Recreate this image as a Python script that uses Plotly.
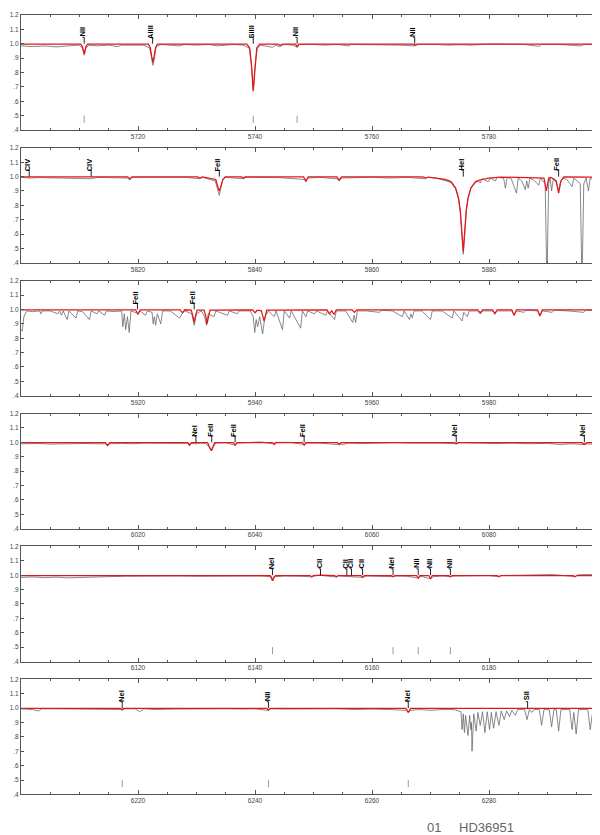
import plotly.graph_objects as go

# ---------------- data ----------------
X_RANGES = [(5700, 5800), (5800, 5900), (5900, 6000), (6000, 6100), (6100, 6200), (6200, 6300)]
X_TICKS = [
    [5720, 5740, 5760, 5780],
    [5820, 5840, 5860, 5880],
    [5920, 5940, 5960, 5980],
    [6020, 6040, 6060, 6080],
    [6120, 6140, 6160, 6180],
    [6220, 6240, 6260, 6280],
]
Y_TICKVALS = [0.4, 0.5, 0.6, 0.7, 0.8, 0.9, 1.0, 1.1, 1.2]
Y_TICKTEXT = [".4", ".5", ".6", ".7", ".8", ".9", "1.0", "1.1", "1.2"]

# observed spectrum (grey) and model (red), (wavelength, flux)
P1_OBS = [(5700, 0.985), (5702, 0.98), (5704, 0.985), (5706, 0.978), (5708, 0.985), (5710, 0.99),
          (5710.5, 0.97), (5710.8, 0.92), (5711.1, 0.97), (5711.6, 0.99), (5713, 0.985), (5715, 0.99),
          (5716.5, 0.98), (5717.2, 0.99), (5719, 0.99), (5721, 0.99), (5722.0, 0.97), (5722.3, 0.9),
          (5722.55, 0.85), (5722.8, 0.9), (5723.1, 0.98), (5724, 0.995), (5726, 0.99), (5727, 0.985),
          (5728, 0.995), (5730, 0.99), (5732, 0.995), (5733.5, 0.985), (5735, 0.99), (5736.5, 0.995),
          (5738, 0.99), (5739.0, 0.97), (5739.4, 0.85), (5739.7, 0.68), (5740.0, 0.85), (5740.4, 0.97),
          (5741, 0.99), (5742, 0.985), (5743, 0.975), (5743.5, 0.99), (5744.2, 0.98), (5745, 0.995),
          (5746.5, 0.99), (5747.2, 0.975), (5747.6, 0.995), (5750, 0.995), (5752, 0.99), (5754, 0.995),
          (5756, 0.985), (5756.5, 0.995), (5759, 0.995), (5761, 0.99), (5763, 0.995), (5765, 0.99),
          (5767.3, 0.985), (5768, 0.995), (5771, 0.995), (5773, 0.99), (5775, 0.993), (5777, 0.99),
          (5780, 0.998), (5783, 0.995), (5786, 0.995), (5788.5, 0.982), (5789, 0.995), (5792, 0.995),
          (5795.6, 0.985), (5796.3, 0.995), (5800, 0.995)]
P1_MOD = [(5700, 0.998), (5710.2, 0.998), (5710.5, 0.98), (5710.8, 0.93), (5711.1, 0.98), (5711.4, 0.998),
          (5721.8, 0.998), (5722.1, 0.97), (5722.35, 0.91), (5722.55, 0.87), (5722.75, 0.91), (5723.0, 0.97),
          (5723.3, 0.998), (5738.6, 0.998), (5739.1, 0.97), (5739.4, 0.85), (5739.7, 0.67), (5740.0, 0.85),
          (5740.3, 0.97), (5740.8, 0.998), (5743.9, 0.998), (5744.3, 0.988), (5744.7, 0.998), (5746.9, 0.998),
          (5747.2, 0.98), (5747.5, 0.998), (5767.0, 0.998), (5767.3, 0.99), (5767.6, 0.998), (5800, 0.998)]

P2_OBS = [(5800, 0.995), (5801.4, 0.99), (5803, 0.993), (5806, 0.99), (5809, 0.99), (5812.0, 0.985),
          (5813, 0.995), (5815, 0.995), (5818.2, 0.99), (5818.6, 0.975), (5819, 0.995), (5822, 0.995),
          (5825, 0.993), (5828, 0.995), (5830.5, 0.985), (5831, 0.995), (5833.2, 0.97), (5833.6, 0.9),
          (5833.9, 0.87), (5834.15, 0.92), (5834.5, 0.98), (5835, 0.995), (5838, 0.985), (5838.5, 0.995),
          (5841, 0.995), (5844, 0.993), (5848.4, 0.98), (5848.7, 0.965), (5849, 0.99), (5851, 0.995),
          (5854, 0.985), (5854.4, 0.97), (5854.8, 0.99), (5857, 0.993), (5860, 0.995), (5863, 0.99),
          (5866, 0.995), (5869, 0.985), (5869.5, 0.995), (5871, 0.99), (5872.5, 0.975), (5873.5, 0.96),
          (5874.3, 0.915), (5874.8, 0.84), (5875.1, 0.75), (5875.35, 0.6), (5875.6, 0.46), (5875.85, 0.6),
          (5876.1, 0.75), (5876.4, 0.84), (5876.9, 0.92), (5877.7, 0.96), (5878.2, 0.97), (5878.5, 0.955),
          (5878.8, 0.985), (5879.9, 0.965), (5880.2, 0.99), (5881.1, 0.97), (5881.4, 0.995), (5882.5, 0.99),
          (5882.8, 0.92), (5883.1, 0.995), (5883.8, 0.985), (5884.7, 0.885), (5885.0, 0.99), (5885.6, 0.97),
          (5886.2, 0.91), (5886.45, 0.97), (5886.7, 0.92), (5887.0, 0.99), (5887.8, 0.97), (5888.5, 0.94),
          (5888.8, 0.99), (5889.6, 0.95), (5889.9, 0.25), (5890.2, 0.95), (5890.45, 0.99), (5890.7, 0.9),
          (5891.0, 0.99), (5891.6, 0.95), (5891.9, 0.9), (5892.2, 0.96), (5892.6, 0.99), (5893.3, 0.98),
          (5894.2, 0.93), (5894.5, 0.99), (5895.6, 0.95), (5895.9, 0.25), (5896.2, 0.95), (5896.6, 0.99),
          (5897.0, 0.9), (5897.3, 0.99), (5898.0, 0.97), (5898.7, 0.86), (5899.0, 0.99), (5899.6, 0.9),
          (5899.85, 0.99), (5900, 0.99)]
P2_MOD = [(5800, 0.998), (5818.2, 0.998), (5818.6, 0.985), (5819, 0.998), (5830.2, 0.998), (5830.6, 0.99),
          (5831, 0.998), (5833.3, 0.98), (5833.65, 0.93), (5833.9, 0.9), (5834.15, 0.93), (5834.5, 0.98),
          (5834.9, 0.998), (5837.7, 0.998), (5838, 0.99), (5838.3, 0.998), (5848.3, 0.998), (5848.7, 0.97),
          (5849.1, 0.998), (5854.0, 0.998), (5854.4, 0.975), (5854.8, 0.998), (5868.7, 0.998), (5869.2, 0.99),
          (5869.6, 0.997), (5871, 0.99), (5872.5, 0.98), (5873.5, 0.965), (5874.3, 0.92), (5874.8, 0.85),
          (5875.1, 0.76), (5875.35, 0.62), (5875.6, 0.48), (5875.85, 0.62), (5876.1, 0.76), (5876.4, 0.85),
          (5876.9, 0.92), (5877.7, 0.965), (5878.7, 0.98), (5880, 0.99), (5882, 0.997), (5889.4, 0.99),
          (5889.8, 0.9), (5890.2, 0.99), (5890.6, 0.995), (5891.5, 0.97), (5891.9, 0.885), (5892.3, 0.97),
          (5892.8, 0.998), (5899.2, 0.995), (5899.5, 0.96), (5899.8, 0.995), (5900, 0.998)]

P3_OBS = [(5900, 0.86), (5900.2, 0.85), (5900.5, 0.95), (5901, 0.99), (5902, 0.985), (5903.2, 0.99),
          (5903.4, 0.97), (5903.6, 0.99), (5905, 0.99), (5906.3, 0.97), (5906.6, 0.99), (5906.9, 0.96),
          (5907.2, 0.99), (5907.9, 0.93), (5908.2, 0.99), (5909.4, 0.94), (5909.7, 0.99), (5910.5, 0.985),
          (5911.7, 0.93), (5912, 0.99), (5913, 0.97), (5913.3, 0.99), (5914.3, 0.96), (5914.6, 0.99),
          (5916, 0.985), (5917.2, 0.99), (5917.4, 0.88), (5917.65, 0.97), (5917.9, 0.86), (5918.2, 0.95),
          (5918.5, 0.84), (5918.8, 0.99), (5919.9, 0.975), (5920.3, 0.99), (5921.3, 0.96), (5921.6, 0.99),
          (5922.4, 0.98), (5922.6, 0.9), (5922.8, 0.95), (5923.0, 0.89), (5923.3, 0.97), (5923.9, 0.9),
          (5924.2, 0.99), (5925.5, 0.99), (5927.1, 0.94), (5927.5, 0.97), (5928, 0.99), (5929.2, 0.97),
          (5929.6, 0.89), (5930, 0.97), (5930.8, 0.99), (5931.4, 0.95), (5931.7, 0.89), (5932, 0.97),
          (5933, 0.95), (5933.3, 0.99), (5935.3, 0.96), (5935.6, 0.99), (5937, 0.97), (5937.3, 0.99),
          (5939.2, 0.99), (5939.7, 0.95), (5939.95, 0.84), (5940.2, 0.93), (5940.45, 0.88), (5940.8, 0.95),
          (5941.3, 0.83), (5941.7, 0.95), (5942.3, 0.99), (5943.3, 0.95), (5943.6, 0.99), (5944.7, 0.86),
          (5945, 0.99), (5945.9, 0.94), (5946.2, 0.99), (5947.8, 0.87), (5948.1, 0.99), (5948.7, 0.95),
          (5949, 0.99), (5950.2, 0.97), (5950.5, 0.99), (5952.1, 0.96), (5952.4, 0.99), (5953.6, 0.93),
          (5953.9, 0.99), (5955.5, 0.99), (5956.7, 0.91), (5956.95, 0.96), (5957.2, 0.91), (5957.5, 0.99),
          (5959, 0.99), (5961.3, 0.98), (5961.6, 0.995), (5963.5, 0.99), (5965.2, 0.95), (5965.5, 0.99),
          (5966.4, 0.93), (5966.65, 0.97), (5966.9, 0.94), (5967.2, 0.99), (5968.5, 0.99), (5970, 0.93),
          (5970.3, 0.99), (5972, 0.99), (5973.7, 0.94), (5974, 0.99), (5975.4, 0.92), (5975.7, 0.98),
          (5976.3, 0.95), (5976.6, 0.99), (5978, 0.99), (5978.5, 0.97), (5979, 0.99), (5980.6, 0.99),
          (5981, 0.97), (5981.4, 0.99), (5983.9, 0.99), (5984.3, 0.96), (5984.7, 0.99), (5986, 0.98),
          (5986.3, 0.995), (5988.3, 0.99), (5988.7, 0.955), (5989.1, 0.99), (5990.8, 0.98), (5991.1, 0.995),
          (5993.5, 0.99), (5996.2, 0.98), (5996.5, 0.995), (5998.7, 0.99), (5999.2, 0.96), (5999.6, 0.98),
          (6000, 0.99)]
P3_MOD = [(5900, 0.998), (5919.6, 0.998), (5920, 0.965), (5920.4, 0.998), (5927.2, 0.998), (5927.6, 0.977),
          (5928, 0.998), (5929.1, 0.995), (5929.4, 0.95), (5929.6, 0.91), (5929.8, 0.95), (5930.1, 0.995),
          (5931.3, 0.995), (5931.6, 0.95), (5931.8, 0.9), (5932.0, 0.95), (5932.3, 0.995), (5939.6, 0.998),
          (5940, 0.977), (5940.4, 0.995), (5941.1, 0.99), (5941.35, 0.95), (5941.55, 0.92), (5941.75, 0.95),
          (5942.0, 0.995), (5952.3, 0.998), (5952.7, 0.97), (5953.1, 0.99), (5953.5, 0.965), (5953.9, 0.998),
          (5956.6, 0.998), (5957, 0.98), (5957.4, 0.998), (5978.1, 0.998), (5978.5, 0.977), (5978.9, 0.998),
          (5980.6, 0.998), (5981, 0.97), (5981.4, 0.998), (5983.9, 0.998), (5984.3, 0.96), (5984.7, 0.998),
          (5988.3, 0.998), (5988.7, 0.955), (5989.1, 0.998), (5998.9, 0.998), (5999.3, 0.965),
          (5999.7, 0.995), (6000, 0.998)]

P4_OBS = [(6000, 0.99), (6003, 0.992), (6005, 0.988), (6007, 0.99), (6009, 0.987), (6011, 0.992),
          (6013, 0.99), (6014.4, 0.99), (6014.8, 0.975), (6015.2, 0.99), (6017, 0.993), (6019, 0.99),
          (6021, 0.995), (6023, 0.993), (6025, 0.995), (6027, 0.993), (6028.5, 0.995), (6028.8, 0.975),
          (6029.1, 0.993), (6029.9, 0.99), (6030.6, 0.995), (6031.5, 0.993), (6032.1, 0.97), (6032.4, 0.95),
          (6032.6, 0.94), (6032.9, 0.97), (6033.3, 0.995), (6035, 0.998), (6036.6, 0.98), (6037, 0.995),
          (6039, 1.0), (6041, 1.003), (6043, 0.99), (6043.6, 1.0), (6046, 1.0), (6048.4, 0.985),
          (6049, 0.995), (6051, 0.995), (6054, 0.985), (6054.5, 0.99), (6055, 0.985), (6056, 0.995),
          (6058, 0.992), (6061, 0.995), (6064, 0.998), (6067, 0.995), (6070, 0.998), (6072, 0.995),
          (6074.4, 0.99), (6075, 0.998), (6078, 0.995), (6081, 0.992), (6084, 0.995), (6087, 0.99),
          (6090, 0.993), (6092, 0.985), (6094, 0.99), (6096.3, 0.985), (6097, 0.99), (6098.3, 0.985),
          (6098.6, 0.92), (6098.9, 0.985), (6099.5, 0.99), (6100, 0.99)]
P4_MOD = [(6000, 0.998), (6014.4, 0.998), (6014.8, 0.98), (6015.2, 0.998), (6028.5, 0.998), (6028.8, 0.982),
          (6029.1, 0.998), (6031.9, 0.998), (6032.2, 0.97), (6032.5, 0.943), (6032.8, 0.97), (6033.1, 0.998),
          (6036.3, 0.998), (6036.6, 0.98), (6036.9, 0.998), (6043, 0.998), (6043.3, 0.985), (6043.6, 0.998),
          (6048.1, 0.998), (6048.4, 0.98), (6048.7, 0.998), (6054.1, 0.998), (6054.4, 0.985), (6054.7, 0.998),
          (6074.1, 0.998), (6074.4, 0.99), (6074.7, 0.998), (6095.9, 0.998), (6096.3, 0.985), (6096.7, 0.998),
          (6100, 0.998)]

P5_OBS = [(6100, 0.985), (6102, 0.988), (6104, 0.983), (6106, 0.987), (6108, 0.982), (6110, 0.985),
          (6112, 0.99), (6115, 0.99), (6118, 0.993), (6121, 0.995), (6124, 0.993), (6127, 0.995),
          (6130, 0.993), (6133, 0.995), (6136, 0.993), (6139, 0.995), (6141, 0.995), (6142.6, 0.99),
          (6143, 0.96), (6143.4, 0.99), (6145, 0.995), (6148, 0.993), (6149.7, 0.988), (6150.2, 0.995),
          (6151.2, 1.0), (6152, 0.995), (6153.9, 0.988), (6154.3, 0.995), (6155.7, 0.993), (6156.5, 0.99),
          (6158.4, 0.985), (6159, 0.995), (6161, 0.993), (6163.6, 0.99), (6164.2, 0.995), (6166, 0.993),
          (6167.9, 0.98), (6168.4, 0.993), (6170, 0.975), (6170.5, 0.99), (6172, 0.995), (6173.4, 0.99),
          (6174, 0.995), (6177, 0.995), (6180, 0.998), (6181.7, 0.99), (6182.2, 0.998), (6185, 1.0),
          (6188, 1.003), (6191, 1.005), (6194.7, 0.99), (6195.2, 1.003), (6197, 1.005), (6200, 1.005)]
P5_MOD = [(6100, 0.998), (6142.6, 0.998), (6142.8, 0.985), (6143, 0.962), (6143.2, 0.985), (6143.5, 0.998),
          (6149.4, 0.998), (6149.7, 0.99), (6150, 0.998), (6151.2, 1.0), (6153.6, 0.998), (6153.9, 0.99),
          (6154.2, 0.998), (6158.1, 0.998), (6158.4, 0.985), (6158.7, 0.998), (6163.3, 0.998), (6163.6, 0.99),
          (6163.9, 0.998), (6167.6, 0.998), (6167.9, 0.98), (6168.2, 0.998), (6169.7, 0.998), (6170, 0.975),
          (6170.3, 0.998), (6173.1, 0.998), (6173.4, 0.99), (6173.7, 0.998), (6181.4, 0.998), (6181.7, 0.99),
          (6182, 0.998), (6194.4, 0.998), (6194.7, 0.99), (6195, 0.998), (6200, 0.998)]

P6_OBS = [(6200, 0.995), (6202, 0.99), (6203, 0.98), (6203.5, 0.995), (6206, 0.995), (6209, 0.993),
          (6212, 0.995), (6215, 0.993), (6217, 0.99), (6217.3, 0.985), (6217.7, 0.995), (6219.5, 0.995),
          (6220.3, 0.975), (6221, 0.995), (6223, 0.99), (6226, 0.993), (6229, 0.995), (6232, 0.993),
          (6235, 0.995), (6238, 0.993), (6240, 0.995), (6242, 0.985), (6242.6, 0.995), (6245, 0.993),
          (6248, 0.995), (6251, 0.993), (6254, 0.995), (6257, 0.99), (6260, 0.993), (6263, 0.99),
          (6265.8, 0.985), (6266.2, 0.968), (6266.6, 0.985), (6268, 0.99), (6270, 0.985), (6272, 0.99),
          (6274, 0.99), (6275.2, 0.975), (6275.4, 0.85), (6275.6, 0.96), (6275.8, 0.83), (6276.0, 0.95),
          (6276.4, 0.81), (6276.7, 0.95), (6276.9, 0.85), (6277.0, 0.9), (6277.1, 0.70), (6277.4, 0.96),
          (6277.8, 0.84), (6278.1, 0.97), (6278.5, 0.88), (6278.9, 0.975), (6279.3, 0.83), (6279.7, 0.975),
          (6280.1, 0.85), (6280.4, 0.97), (6280.8, 0.86), (6281.2, 0.975), (6281.7, 0.88), (6282.1, 0.98),
          (6282.6, 0.92), (6283.0, 0.98), (6283.5, 0.94), (6283.9, 0.985), (6284.5, 0.95), (6284.9, 0.99),
          (6286.1, 0.99), (6286.5, 0.92), (6286.9, 0.99), (6287.3, 0.97), (6287.7, 0.99), (6288.6, 0.99),
          (6289.0, 0.88), (6289.4, 0.99), (6290.3, 0.99), (6290.7, 0.87), (6291.1, 0.99), (6291.5, 0.99),
          (6291.9, 0.84), (6292.3, 0.99), (6293.8, 0.99), (6294.2, 0.85), (6294.5, 0.97), (6294.9, 0.82),
          (6295.3, 0.99), (6296.9, 0.99), (6297.3, 0.85), (6297.7, 0.97), (6298.1, 0.83), (6298.5, 0.97),
          (6298.9, 0.94), (6299.3, 0.99), (6300, 0.995)]
P6_MOD = [(6200, 0.998), (6217, 0.998), (6217.3, 0.99), (6217.6, 0.998), (6242, 0.998), (6242.3, 0.985),
          (6242.6, 0.998), (6265.8, 0.998), (6266.0, 0.985), (6266.2, 0.97), (6266.4, 0.985), (6266.6, 0.998),
          (6300, 0.998)]

# line identifications: (wavelength, label)
P1_IDS = [(5710.8, "NII"), (5722.5, "AlIII"), (5739.7, "SiIII"), (5747.2, "NII"), (5767.3, "NII")]
P2_IDS = [(5801.4, "CIV"), (5812.0, "CIV"), (5833.9, "FeII"), (5875.6, "HeI"), (5891.9, "FeII")]
P3_IDS = [(5919.9, "FeII"), (5929.6, "FeII"), (5998.6, "FeII")]
P4_IDS = [(6029.9, "NeI"), (6032.6, "FeII"), (6036.6, "FeII"), (6048.4, "FeII"), (6074.4, "NeI"), (6096.3, "NeI")]
P5_IDS = [(6143.0, "NeI"), (6151.2, "CII"), (6155.7, "CII"), (6156.5, "CII"), (6158.4, "CII"),
          (6163.6, "NeI"), (6167.9, "NII"), (6170.0, "NII"), (6173.4, "NII")]
P6_IDS = [(6217.3, "NeI"), (6242.3, "NII"), (6266.2, "NeI"), (6286.6, "SII")]

# short grey markers near the bottom
P1_MARKS = [5710.8, 5739.7, 5747.2]
P5_MARKS = [6143.0, 6163.6, 6167.9, 6173.4]
P6_MARKS = [6217.3, 6242.3, 6266.2]

TITLE_NUM = "01"
TITLE_STAR = "HD36951"

OBS = [P1_OBS, P2_OBS, P3_OBS, P4_OBS, P5_OBS, P6_OBS]
MOD = [P1_MOD, P2_MOD, P3_MOD, P4_MOD, P5_MOD, P6_MOD]
IDS = [P1_IDS, P2_IDS, P3_IDS, P4_IDS, P5_IDS, P6_IDS]
MARKS = [P1_MARKS, [], [], [], P5_MARKS, P6_MARKS]

# ---------------- layout geometry ----------------
W, H = 600, 835
ML, MR = 13, 2
PANEL_TOPS = [3, 137, 271, 405, 539, 673]
PANEL_H = 116

AX_COL = "#555555"
TICK_FONT = dict(family="Liberation Sans, Arial, sans-serif", size=6.5, color="#444444")
LBL_FONT = dict(family="Liberation Sans, Arial, sans-serif", size=7.5, color="#000000")

fig = go.Figure()
layout = dict(
    width=W, height=H, margin=dict(l=ML, r=MR, t=0, b=0),
    paper_bgcolor="white", plot_bgcolor="white", showlegend=False,
    hovermode=False,
)
annotations = []

for i in range(6):
    n = i + 1
    xa = "x" if n == 1 else f"x{n}"
    ya = "y" if n == 1 else f"y{n}"
    xkey = "xaxis" if n == 1 else f"xaxis{n}"
    ykey = "yaxis" if n == 1 else f"yaxis{n}"
    top = PANEL_TOPS[i]
    dom = [(H - (top + PANEL_H)) / H, (H - top) / H]
    x0, x1 = X_RANGES[i]

    layout[xkey] = dict(
        domain=[0, 1], anchor=ya, range=[x0, x1], showgrid=False, zeroline=False,
        showline=True, linecolor=AX_COL, linewidth=1, mirror="ticks",
        ticks="inside", ticklen=4, tickcolor=AX_COL, tickwidth=1,
        tickmode="array", tickvals=X_TICKS[i], ticktext=[str(v) for v in X_TICKS[i]],
        tickfont=TICK_FONT,
        minor=dict(ticks="inside", ticklen=2, tickcolor=AX_COL, dtick=5, tick0=x0, showgrid=False),
    )
    layout[ykey] = dict(
        domain=dom, anchor=xa, range=[0.4, 1.2], showgrid=False, zeroline=False,
        showline=True, linecolor=AX_COL, linewidth=1, mirror="ticks",
        ticks="inside", ticklen=3, tickcolor=AX_COL, tickwidth=1,
        tickmode="array", tickvals=Y_TICKVALS, ticktext=Y_TICKTEXT, tickfont=TICK_FONT,
    )

    # grey markers near bottom
    mx, my = [], []
    for w in MARKS[i]:
        mx += [w, w, None]
        my += [0.45, 0.50, None]
    if mx:
        fig.add_trace(go.Scatter(x=mx, y=my, mode="lines", xaxis=xa, yaxis=ya,
                                 line=dict(color="#9a9a9a", width=1)))

    # observed spectrum
    fig.add_trace(go.Scatter(x=[p[0] for p in OBS[i]], y=[p[1] for p in OBS[i]], mode="lines",
                             xaxis=xa, yaxis=ya, line=dict(color="#6a6a6a", width=0.8)))
    # model
    fig.add_trace(go.Scatter(x=[p[0] for p in MOD[i]], y=[p[1] for p in MOD[i]], mode="lines",
                             xaxis=xa, yaxis=ya, line=dict(color="#e3161b", width=1.25)))

    # leaders
    lx, ly = [], []
    for w, lab in IDS[i]:
        lx += [w, w, w - 0.3, None]
        ly += [1.0, 1.045, 1.045, None]
        annotations.append(dict(
            x=w, y=1.083, xref=xa, yref=ya, text=f"<b>{lab}</b>", showarrow=False,
            textangle=-90, xanchor="center", yanchor="middle", xshift=-1.5,
            font=LBL_FONT,
        ))
    fig.add_trace(go.Scatter(x=lx, y=ly, mode="lines", xaxis=xa, yaxis=ya,
                             line=dict(color="#222222", width=1)))

pw = W - ML - MR
annotations.append(dict(x=(426 - ML) / pw, y=(H - 822) / H, xref="paper", yref="paper",
                        text=TITLE_NUM, showarrow=False, xanchor="center", yanchor="middle",
                        font=dict(family="Liberation Sans Narrow, Liberation Sans, Arial", size=13, color="#666666")))
annotations.append(dict(x=(479 - ML) / pw, y=(H - 822) / H, xref="paper", yref="paper",
                        text=TITLE_STAR, showarrow=False, xanchor="center", yanchor="middle",
                        font=dict(family="Liberation Sans Narrow, Liberation Sans, Arial", size=13, color="#666666")))
layout["annotations"] = annotations
fig.update_layout(**layout)
fig.write_html("out.html")
